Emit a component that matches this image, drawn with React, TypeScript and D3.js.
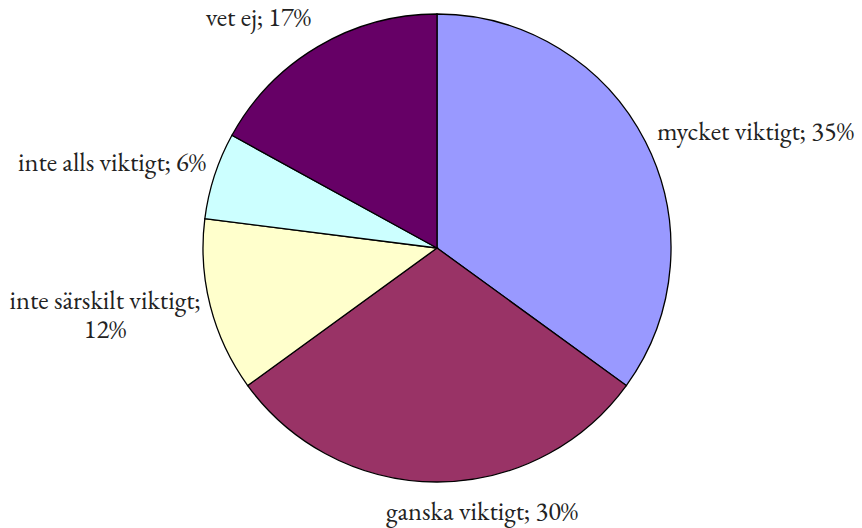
import React from "react";
import * as d3 from "d3";

const categories = ["mycket viktigt", "ganska viktigt", "inte särskilt viktigt", "inte alls viktigt", "vet ej"];
const values = [35, 30, 12, 6, 17];
const colors = ["#9999FF", "#993366", "#FFFFCC", "#CCFFFF", "#660066"];

const labelLines: string[][] = [
  ["mycket viktigt; 35%"],
  ["ganska viktigt; 30%"],
  ["inte särskilt viktigt;", "12%"],
  ["inte alls viktigt; 6%"],
  ["vet ej; 17%"],
];
const labelPos: [number, number, string][] = [
  [657, 140, "start"],
  [482, 520, "middle"],
  [105, 309, "middle"],
  [206, 171, "end"],
  [311, 26, "end"],
];

export default function App() {
  const W = 862, H = 528;
  const cx = 437, cy = 248, r = 234;
  const pie = d3.pie<number>().sort(null).value((d) => d)(values);
  const arc = d3.arc<d3.PieArcDatum<number>>().innerRadius(0).outerRadius(r);
  return (
    <svg width={W} height={H} style={{ position: "absolute", left: 0, top: 0 }}>
      <rect width={W} height={H} fill="#fff" />
      <g transform={`translate(${cx},${cy})`}>
        {pie.map((p, i) => (
          <path key={i} d={arc(p) || ""} fill={colors[i]} stroke="#000" strokeWidth={1.3} />
        ))}
      </g>
      {categories.map((c, i) => (
        <text key={c} x={labelPos[i][0]} y={labelPos[i][1]} textAnchor={labelPos[i][2] as any}
          style={{ fontFamily: "EB Garamond", fontSize: 26.5 }} fill="#222">
          {labelLines[i].map((l, j) => (
            <tspan key={j} x={labelPos[i][0]} dy={j === 0 ? 0 : 29}>{l}</tspan>
          ))}
        </text>
      ))}
    </svg>
  );
}
